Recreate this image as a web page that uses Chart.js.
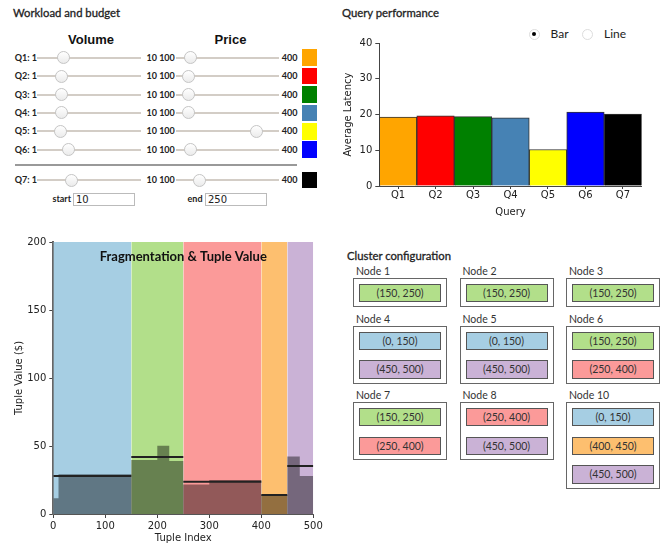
<!DOCTYPE html>
<html>
<head>
<meta charset="utf-8">
<script src="https://cdn.jsdelivr.net/npm/chart.js@4.4.0/dist/chart.umd.min.js"></script>
<style>
  body { margin: 0; background: #fff; font-family: Lato, sans-serif; color: #222; }
  #page { position: relative; width: 665px; height: 544px; overflow: hidden; }
  .abs { position: absolute; white-space: nowrap; }
  .title { font: 11.3px Lato; color: #222; line-height: 16px; -webkit-text-stroke: 0.3px #222; }
  .head { font: bold 13px "Liberation Sans", Arial, sans-serif; color: #111; width: 100px; text-align: center; line-height: 16px; }
  .rowtxt { font: bold 9px Lato; color: #222; line-height: 12px; }
  .swatch { width: 15px; height: 16.5px; }
  input[type=range] {
    -webkit-appearance: none; appearance: none; position: absolute; margin: 0; padding: 0;
    height: 14px; background: transparent;
  }
  input[type=range]::-webkit-slider-runnable-track {
    height: 2px;
    background: linear-gradient(to right, transparent 6.5px, #d3cdc6 6.5px, #d3cdc6 calc(100% - 6.5px), transparent calc(100% - 6.5px));
  }
  input[type=range]::-webkit-slider-thumb {
    -webkit-appearance: none; box-sizing: border-box; width: 13px; height: 13px; border-radius: 50%;
    background: linear-gradient(#ffffff, #ebebeb); border: 1px solid #c5c5c5; margin-top: -5.5px;
  }
  input.box { position: absolute; box-sizing: border-box; height: 13px; border: 1px solid #bbb; padding: 0 2px; font: 10px "DejaVu Sans"; color: #222; outline: none; }
  .radio { position: absolute; box-sizing: border-box; width: 11px; height: 11px; border-radius: 50%; border: 1px solid #ddd; background: #fff; }
  .radio.on::after { content: ""; position: absolute; left: 2.5px; top: 2.5px; width: 4px; height: 4px; border-radius: 50%; background: #000; }
  .radiotxt { font: 12px Lato; color: #222; line-height: 14px; }
  #cluster { position: absolute; left: 353px; top: 265px; display: grid; grid-template-columns: 94px 94px 94px; column-gap: 12.5px; row-gap: 5.5px; align-items: start; }
  .node .lbl { font: 10.5px Lato; color: #333; line-height: 13px; padding-left: 3px; }
  .node .frame { border: 1px solid #666; padding: 5px 5px 4px 5px; }
  .frag { box-sizing: border-box; height: 18.3px; border: 1px solid #555; font: 10.5px Lato; color: #333; text-align: center; line-height: 16.3px; }
  .frag + .frag { margin-top: 10.3px; }
</style>
</head>
<body>
<div id="page">
  <div class="abs title" style="left:13px; top:5px;">Workload and budget</div>
  <div class="abs head" style="left:41px; top:32px;">Volume</div>
  <div class="abs head" style="left:180.5px; top:32px;">Price</div>
  <div id="rows"></div>
  <div class="abs" style="left:15px; top:163.5px; width:282px; border-top:2px solid #999;"></div>
  <div class="abs rowtxt" style="left:52px; top:193px; width:19px; text-align:right;">start</div>
  <input class="box" style="left:73px; top:192.7px; width:61.5px;" value="10">
  <div class="abs rowtxt" style="left:180px; top:193px; width:22.5px; text-align:right;">end</div>
  <input class="box" style="left:205px; top:192.7px; width:61.7px;" value="250">

  <div class="abs title" style="left:342px; top:5px;">Query performance</div>
  <div class="radio on" style="left:528.5px; top:28.8px;"></div>
  <div class="abs radiotxt" style="left:550.5px; top:27.3px;">Bar</div>
  <div class="radio" style="left:581.5px; top:28.8px;"></div>
  <div class="abs radiotxt" style="left:604px; top:27.3px;">Line</div>
  <div class="abs" style="left:330px; top:30px; width:335px; height:192px;"><canvas id="perfChart"></canvas></div>

  <div class="abs" style="left:0px; top:232px; width:330px; height:312px;"><canvas id="fragChart"></canvas></div>

  <div class="abs title" style="left:347px; top:248px;">Cluster configuration</div>
  <div id="cluster"></div>
</div>
<script>
// workload sliders
const queries = ["Q1", "Q2", "Q3", "Q4", "Q5", "Q6", "Q7"];
const queryColors = ["orange", "red", "green", "steelblue", "yellow", "blue", "black"];
const volumeMin = 1, volumeMax = 10;
const priceMin = 100, priceMax = 400;
const volumes = [3.2, 3.1, 3.1, 3.1, 3.0, 3.7, 3.9];
const prices = [145, 140, 140, 140, 333, 145, 170];

// query performance
const latency = [19.3, 19.6, 19.4, 19.1, 10.2, 20.7, 20.1];

// fragmentation
const fragStart = [0, 150, 250, 400, 450];
const fragEnd = [150, 250, 400, 450, 500];
const fragColors = ["#a6cee3", "#b2df8a", "#fb9a99", "#fdbf6f", "#cab2d6"];
const fragAvg = [27.9, 41.9, 23.8, 14, 35.3];
const binEdges = [0, 10, 150, 200, 223, 250, 300, 400, 450, 474, 500];
const binValues = [11.5, 29.2, 39.7, 50.2, 39, 21.6, 25, 14, 42.2, 28];

// cluster
const nodeNames = ["Node 1", "Node 2", "Node 3", "Node 4", "Node 5", "Node 6", "Node 7", "Node 8", "Node 10"];
const nodeFrags = [[1], [1], [1], [0, 4], [0, 4], [1, 2], [1, 2], [2, 4], [0, 3, 4]];

// build slider rows
const rows = document.getElementById('rows');
queries.forEach((q, i) => {
  const cy = i < 6 ? 57.7 + 18.4 * i : 180;
  const top = cy - 6;
  rows.insertAdjacentHTML('beforeend',
    `<div class="abs rowtxt" style="left:10px; top:${top}px; width:27px; text-align:right;">${q}: ${volumeMin}</div>` +
    `<input type="range" min="${volumeMin}" max="${volumeMax}" step="any" value="${volumes[i]}" style="left:31.2px; top:${cy - 7}px; width:117px;">` +
    `<div class="abs rowtxt" style="left:146.5px; top:${top}px;">${volumeMax} ${priceMin}</div>` +
    `<input type="range" min="${priceMin}" max="${priceMax}" step="any" value="${prices[i]}" style="left:168.5px; top:${cy - 7}px; width:117.3px;">` +
    `<div class="abs rowtxt" style="left:281.7px; top:${top}px;">${priceMax}</div>` +
    `<div class="abs swatch" style="left:301.7px; top:${cy - 8.3}px; background:${queryColors[i]};"></div>`);
});

// build cluster nodes
const cluster = document.getElementById('cluster');
nodeNames.forEach((name, i) => {
  const inner = nodeFrags[i].map(f =>
    `<div class="frag" style="background:${fragColors[f]}">(${fragStart[f]}, ${fragEnd[f]})</div>`).join('');
  cluster.insertAdjacentHTML('beforeend', `<div class="node"><div class="lbl">${name}</div><div class="frame">${inner}</div></div>`);
});

const axisFont = { family: "DejaVu Sans", size: 10 };
const axisColor = '#222';

new Chart(document.getElementById('perfChart'), {
  type: 'bar',
  data: {
    labels: queries,
    datasets: [{
      data: latency,
      backgroundColor: queryColors,
      borderColor: '#333',
      borderWidth: 1,
      categoryPercentage: 1,
      barPercentage: 1
    }]
  },
  options: {
    responsive: true,
    maintainAspectRatio: false,
    animation: false,
    layout: { padding: { top: 13, right: 23.3, bottom: 0, left: 0 } },
    plugins: { legend: { display: false }, tooltip: { enabled: false } },
    scales: {
      x: {
        grid: { drawOnChartArea: false, offset: false, tickLength: 3, color: '#444' },
        border: { color: '#444' },
        ticks: { font: axisFont, color: axisColor, padding: 0 },
        title: { display: true, text: 'Query', font: axisFont, color: axisColor, padding: { top: 5, bottom: 4 } },
        afterFit(s) { s.height = 36; }
      },
      y: {
        min: 0, max: 40,
        grid: { drawOnChartArea: false, tickLength: 4, color: '#444' },
        border: { color: '#444' },
        ticks: { stepSize: 10, font: axisFont, color: axisColor, padding: 3 },
        title: { display: true, text: 'Average Latency', font: axisFont, color: axisColor, padding: { top: 12 } },
        afterFit(s) { s.width = 49.3; }
      }
    }
  }
});

const fragTitle = {
  id: 'fragTitle',
  afterDatasetsDraw(chart) {
    const { ctx, chartArea } = chart;
    ctx.save();
    ctx.font = 'bold 13px Lato';
    ctx.fillStyle = '#111';
    ctx.textAlign = 'center';
    ctx.textBaseline = 'middle';
    ctx.fillText('Fragmentation & Tuple Value', (chartArea.left + chartArea.right) / 2, chartArea.top + 15);
    ctx.restore();
  }
};

const bandSets = fragStart.map((s, i) => ({
  data: [{ x: s, y: 200 }, { x: fragEnd[i], y: 200 }],
  backgroundColor: fragColors[i],
  borderWidth: 0, pointRadius: 0, fill: 'origin', order: 2
}));
const histSet = {
  data: binEdges.map((x, i) => ({ x, y: binValues[Math.min(i, binValues.length - 1)] })),
  stepped: 'before',
  backgroundColor: 'rgba(0,0,0,0.42)',
  borderWidth: 0, pointRadius: 0, fill: 'origin', order: 1
};
const avgSets = fragStart.map((s, i) => ({
  data: [{ x: s, y: fragAvg[i] }, { x: fragEnd[i], y: fragAvg[i] }],
  borderColor: '#222', borderWidth: 2, pointRadius: 0, fill: false, order: 0
}));

new Chart(document.getElementById('fragChart'), {
  type: 'line',
  data: { datasets: [...bandSets, histSet, ...avgSets] },
  options: {
    responsive: true,
    maintainAspectRatio: false,
    animation: false,
    layout: { padding: { top: 10, right: 16.7, bottom: 0, left: 0 } },
    plugins: { legend: { display: false }, tooltip: { enabled: false } },
    scales: {
      x: {
        type: 'linear', min: 0, max: 500,
        grid: { drawOnChartArea: false, tickLength: 4, color: '#444' },
        border: { color: '#555', width: 1 },
        ticks: { stepSize: 100, font: axisFont, color: axisColor, padding: 2 },
        title: { display: true, text: 'Tuple Index', font: axisFont, color: axisColor, padding: { top: 0, bottom: 0 } },
        afterFit(s) { s.height = 30; }
      },
      y: {
        min: 0, max: 200,
        grid: { drawOnChartArea: false, tickLength: 4, color: '#444' },
        border: { color: '#666', width: 2 },
        ticks: { stepSize: 50, font: axisFont, color: axisColor, padding: 3 },
        title: { display: true, text: 'Tuple Value ($)', font: axisFont, color: axisColor, padding: { top: 13.3 } },
        afterFit(s) { s.width = 53.3; }
      }
    }
  },
  plugins: [fragTitle]
});
</script>
</body>
</html>
